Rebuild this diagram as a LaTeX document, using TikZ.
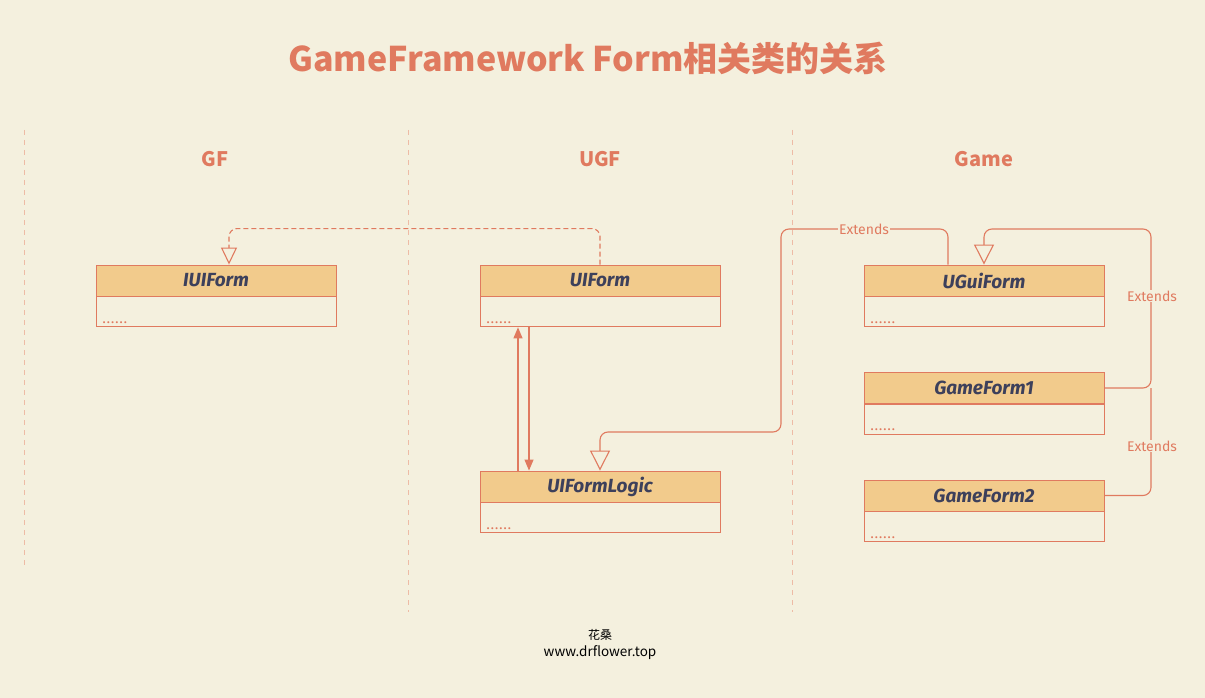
\documentclass[tikz,border=0pt]{standalone}
\usepackage{fontspec}
\setmainfont{Fira Sans}
\newfontfamily\cjk{Noto Sans CJK SC}
\newfontfamily\dotsfont{Fira Sans}[LetterSpace=15]
\usetikzlibrary{arrows.meta}
\definecolor{bg}{HTML}{F4F0DE}
\definecolor{coral}{HTML}{E07A5F}
\definecolor{hdr}{HTML}{F2CB8C}
\definecolor{ink}{HTML}{3D405B}
\definecolor{sep}{HTML}{EDBBA5}
\begin{document}
\begin{tikzpicture}[x=1pt,y=-1pt,
  hdrbox/.style={draw=coral, fill=hdr, minimum width=240pt, minimum height=31pt, inner sep=0pt,
    font=\fontsize{19}{21}\selectfont\bfseries\itshape, text=ink, line width=0.9pt},
  bodybox/.style={draw=coral, fill=bg, minimum width=240pt, minimum height=30pt, inner sep=0pt, line width=0.9pt},
  dotstext/.style={text=coral, font=\dotsfont\bfseries\fontsize{11}{11}\selectfont, inner sep=0pt, anchor=base west},
  coltitle/.style={text=coral, font=\cjk\bfseries\fontsize{20}{22}\selectfont},
  septline/.style={draw=sep, line width=0.9pt, dash pattern=on 5pt off 5pt},
  conn/.style={draw=coral, line width=1.1pt, rounded corners=8pt},
  openarrow/.style={-{Triangle[open, length=20pt, width=20pt, fill=bg]}},
  smallopen/.style={-{Triangle[open, length=17pt, width=16pt, fill=bg]}},
  solidarrow/.style={-{Triangle[length=11pt, width=9pt]}},
  extlabel/.style={text=coral, fill=bg, inner sep=1pt, font=\fontsize{14}{15}\selectfont}
]
\useasboundingbox[fill=bg] (0,0) rectangle (1205,698);

% title
\node[text=coral, font=\cjk\bfseries\fontsize{34}{38}\selectfont] (title) at (588,58) {GameFramework Form相关类的关系};

% separators
\coordinate (s1a) at (24,130); \coordinate (s1b) at (24,565);
\coordinate (s2a) at (408,130); \coordinate (s2b) at (408,612);
\coordinate (s3a) at (792,130); \coordinate (s3b) at (792,612);
\draw[septline] (s1a) -- (s1b);
\draw[septline] (s2a) -- (s2b);
\draw[septline] (s3a) -- (s3b);

% column titles
\node[coltitle] (cgf) at (215,159) {GF};
\node[coltitle] (cugf) at (600,159) {UGF};
\node[coltitle] (cgame) at (984,159) {Game};

% classes
\node[hdrbox] (iuiform) at (216,280.5) {IUIForm};
\node[bodybox, anchor=north] (iuiformb) at (iuiform.south) {};
\node[dotstext] (iuiformd) at ([xshift=7pt,yshift=4pt]iuiformb.south west) {......};

\node[hdrbox] (uiform) at (600,280.5) {UIForm};
\node[bodybox, anchor=north] (uiformb) at (uiform.south) {};
\node[dotstext] (uiformd) at ([xshift=7pt,yshift=4pt]uiformb.south west) {......};

\node[hdrbox] (uiformlogic) at (600,486.5) {UIFormLogic};
\node[bodybox, anchor=north] (uiformlogicb) at (uiformlogic.south) {};
\node[dotstext] (uiformlogicd) at ([xshift=7pt,yshift=4pt]uiformlogicb.south west) {......};

\node[hdrbox] (uguiform) at (984,280.5) {UGuiForm};
\node[bodybox, anchor=north] (uguiformb) at (uguiform.south) {};
\node[dotstext] (uguiformd) at ([xshift=7pt,yshift=4pt]uguiformb.south west) {......};

\node[hdrbox] (gameform1) at (984,388) {GameForm1};
\node[bodybox, anchor=north] (gameform1b) at (gameform1.south) {};
\node[dotstext] (gameform1d) at ([xshift=7pt,yshift=4pt]gameform1b.south west) {......};

\node[hdrbox] (gameform2) at (984,495.5) {GameForm2};
\node[bodybox, anchor=north] (gameform2b) at (gameform2.south) {};
\node[dotstext] (gameform2d) at ([xshift=7pt,yshift=4pt]gameform2b.south west) {......};

% UIForm realizes IUIForm
\draw[conn, dash pattern=on 5pt off 3pt, smallopen] (uiform.north) -- ++(0,-36) -| ([xshift=13pt]iuiform.north);

% UIForm <-> UIFormLogic
\draw[conn, solidarrow] ([xshift=-82pt]uiformlogic.north) -- ([xshift=-82pt]uiformb.south);
\draw[conn, solidarrow] ([xshift=-71pt]uiformb.south) -- ([xshift=-71pt]uiformlogic.north);

% UGuiForm extends UIFormLogic
\coordinate (w1) at (781,229);
\coordinate (w2) at (781,432);
\coordinate (w3) at (600,432);
\draw[conn, openarrow] ([xshift=-36pt]uguiform.north) |- (w1) -- (w2) -- (w3) -- (uiformlogic.north);
\node[extlabel] (ext1) at (864,229) {Extends};

% GameForm1 / GameForm2 extend UGuiForm
\coordinate (r1) at (1151,229);
\coordinate (r2) at (1151,388);
\draw[conn, openarrow] (gameform1.east) -| (r1) -| (uguiform.north);
\draw[conn] (gameform2.east) -| (r2);
\node[extlabel] (ext2) at (1152,296) {Extends};
\node[extlabel] (ext3) at (1152,446) {Extends};

% footer
\node[text=black, font=\cjk\fontsize{12}{14}\selectfont, inner sep=0pt] (f1) at (600,635) {花桑};
\node[text=black, font=\cjk\fontsize{13.5}{15}\selectfont, inner sep=0pt] (f2) at (600,653) {www.drflower.top};
\end{tikzpicture}
\end{document}
